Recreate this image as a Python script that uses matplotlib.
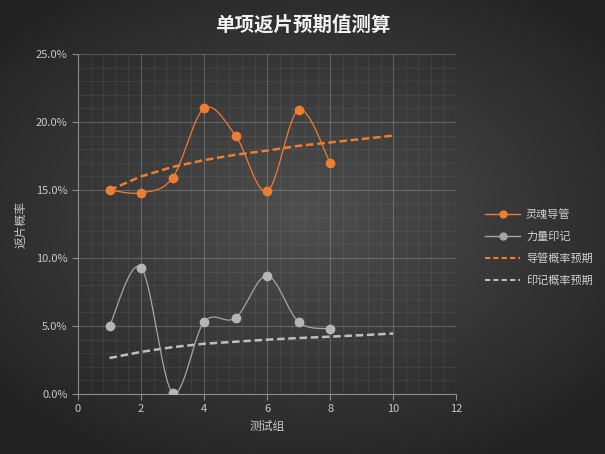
import matplotlib.pyplot as plt
import numpy as np
from matplotlib.ticker import MultipleLocator, PercentFormatter

plt.rcParams['font.family'] = ['Noto Sans CJK SC', 'DejaVu Sans']

# 数据 (百分比)
组 = [1, 2, 3, 4, 5, 6, 7, 8]
灵魂导管 = [15.0, 14.8, 15.9, 21.0, 19.0, 14.9, 20.9, 17.0]
力量印记 = [5.0, 9.3, 0.1, 5.3, 5.6, 8.7, 5.3, 4.8]
预期组 = [1, 2, 3, 4, 5, 6, 7, 8, 9, 10]
导管预期 = [15.0, 16.0, 16.7, 17.2, 17.6, 17.9, 18.25, 18.5, 18.75, 19.0]
印记预期 = [2.65, 3.1, 3.45, 3.7, 3.85, 4.0, 4.12, 4.22, 4.33, 4.45]


def 平滑(x, y, n=30):
    # Catmull-Rom 样条, 类似 Excel 的平滑线
    x = np.asarray(x, float)
    y = np.asarray(y, float)
    px = np.concatenate([[x[0]], x, [x[-1]]])
    py = np.concatenate([[y[0]], y, [y[-1]]])
    xs, ys = [], []
    t = np.linspace(0, 1, n)
    for i in range(1, len(px) - 2):
        p0, p1, p2, p3 = (np.array([px[j], py[j]]) for j in range(i - 1, i + 3))
        c1 = p1 + (p2 - p0) / 6
        c2 = p2 - (p3 - p1) / 6
        b = ((1 - t) ** 3)[:, None] * p1 + (3 * (1 - t) ** 2 * t)[:, None] * c1 \
            + (3 * (1 - t) * t ** 2)[:, None] * c2 + (t ** 3)[:, None] * p2
        xs.extend(b[:, 0])
        ys.extend(b[:, 1])
    return np.array(xs), np.array(ys)


fig = plt.figure(figsize=(6.05, 4.54), dpi=100)

# 背景径向渐变
bg = fig.add_axes([0, 0, 1, 1], zorder=-10)
gx, gy = np.meshgrid(np.linspace(-1, 1, 300), np.linspace(-1, 1, 230))
r = np.sqrt((gx / 1.15) ** 2 + ((gy + 0.05) / 1.05) ** 2)
val = np.clip(0.31 - 0.15 * r, 0.14, 0.31)
bg.imshow(np.dstack([val, val, val]), aspect='auto', extent=[0, 1, 0, 1])
bg.axis('off')

ax = fig.add_axes([0.129, 0.132, 0.625, 0.749])
ax.patch.set_alpha(0)

橙 = '#ED7D31'
灰 = '#A5A5A5'

sx, sy = 平滑(组, 灵魂导管)
ax.plot(sx, sy, color=橙, lw=0.9, zorder=3)
ax.plot(组, 灵魂导管, 'o', color=橙, ms=6, zorder=4)
sx, sy = 平滑(组, 力量印记)
ax.plot(sx, sy, color=灰, lw=0.9, zorder=3)
ax.plot(组, 力量印记, 'o', color='#B5B5B5', ms=6, zorder=4)
ax.plot(预期组, 导管预期, '--', color=橙, lw=1.8, dashes=(3, 1.5), zorder=2)
ax.plot(预期组, 印记预期, '--', color='#BFBFBF', lw=1.8, dashes=(3, 1.5), zorder=2)

# 图例
ax.plot([], [], '-o', color=橙, ms=5, lw=1, label='灵魂导管')
ax.plot([], [], '-o', color=灰, ms=5, lw=1, label='力量印记')
ax.plot([], [], '--', color=橙, lw=1.5, dashes=(2.5, 1.5), label='导管概率预期')
ax.plot([], [], '--', color='#BFBFBF', lw=1.5, dashes=(2.5, 1.5), label='印记概率预期')
h, l = ax.get_legend_handles_labels()
leg = fig.legend(h[-4:], l[-4:], loc='center left', bbox_to_anchor=(0.785, 0.455),
                 frameon=False, fontsize=8, labelcolor='#D0D0D0', handlelength=3.2,
                 labelspacing=1.05, handletextpad=0.5)

ax.set_xlim(0, 12)
ax.set_ylim(0, 25)
ax.xaxis.set_major_locator(MultipleLocator(2))
ax.xaxis.set_minor_locator(MultipleLocator(0.4))
ax.yaxis.set_major_locator(MultipleLocator(5))
ax.yaxis.set_minor_locator(MultipleLocator(1))
ax.yaxis.set_major_formatter(PercentFormatter(decimals=1))
ax.grid(which='major', color='white', alpha=0.2, lw=0.8)
ax.grid(which='minor', color='white', alpha=0.07, lw=0.6)
ax.set_axisbelow(True)
for s in ['top', 'right']:
    ax.spines[s].set_visible(False)
for s in ['left', 'bottom']:
    ax.spines[s].set_color('#8C8C8C')
ax.tick_params(which='major', colors='#8C8C8C', labelcolor='#C8C8C8', labelsize=8, length=4)
ax.tick_params(which='minor', length=0)

ax.set_xlabel('测试组', color='#C8C8C8', fontsize=8.5, labelpad=4)
ax.set_ylabel('返片概率', color='#C8C8C8', fontsize=8.5, labelpad=6)
fig.text(0.5, 0.945, '单项返片预期值测算', ha='center', va='center',
         color='#F2F2F2', fontsize=14, fontweight='bold')

fig.savefig('out.png', dpi=100)
